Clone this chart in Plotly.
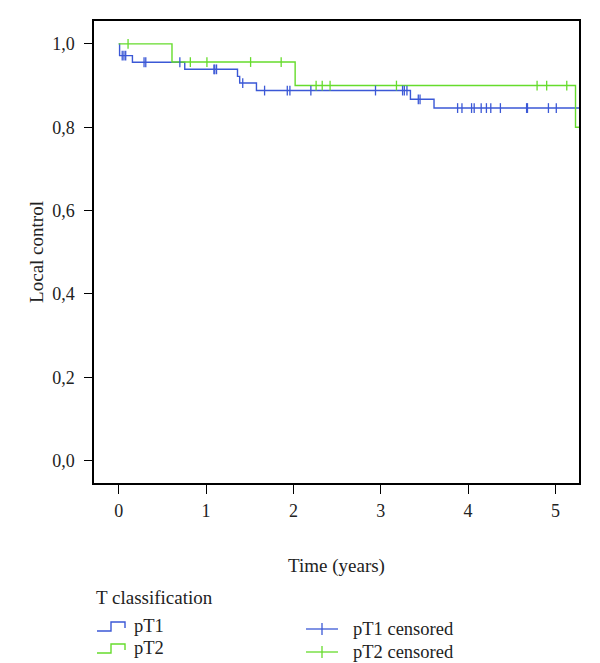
import plotly.graph_objects as go

# ---------------- data ----------------
pT1_time = [0.0, 0.01, 0.157, 0.756, 1.36, 1.385, 1.577, 3.34, 3.61, 5.35]
pT1_surv = [1.0, 0.972, 0.956, 0.939, 0.922, 0.906, 0.888, 0.867, 0.846, 0.846]

pT2_time = [0.0, 0.61, 2.02, 5.23, 5.35]
pT2_surv = [1.0, 0.9565, 0.90, 0.80, 0.80]

pT1_censored = [0.04, 0.06, 0.08, 0.29, 0.31, 0.70, 1.09, 1.10, 1.12, 1.42, 1.67,
                1.93, 1.96, 2.20, 2.94, 3.25, 3.27, 3.30, 3.43, 3.45, 3.88, 3.93,
                4.04, 4.07, 4.15, 4.21, 4.26, 4.37, 4.67, 4.68, 4.92, 5.01]
pT2_censored = [0.107, 0.82, 1.01, 1.51, 1.86, 2.26, 2.33, 2.42, 3.18, 4.79, 4.90, 5.13]

x_ticks = [0, 1, 2, 3, 4, 5]
y_ticks = [0.0, 0.2, 0.4, 0.6, 0.8, 1.0]
y_tick_labels = ["0,0", "0,2", "0,4", "0,6", "0,8", "1,0"]

legend_title = "T classification"
series_names = ["pT1", "pT2"]
censored_names = ["pT1 censored", "pT2 censored"]

BLUE = "#3b58d6"
GREEN = "#66dc2c"
FONT = "Liberation Serif"
TXT = "#222"


def step_value(times, surv, t):
    v = surv[0]
    for ti, si in zip(times, surv):
        if ti <= t:
            v = si
        else:
            break
    return v


fig = go.Figure()
for times, surv, color, name in [(pT1_time, pT1_surv, BLUE, series_names[0]),
                                 (pT2_time, pT2_surv, GREEN, series_names[1])]:
    fig.add_trace(go.Scatter(x=times, y=surv, mode="lines", line_shape="hv",
                             line=dict(color=color, width=1.4), name=name,
                             showlegend=False, hoverinfo="skip"))

for cens, times, surv, color, name in [
        (pT1_censored, pT1_time, pT1_surv, BLUE, censored_names[0]),
        (pT2_censored, pT2_time, pT2_surv, GREEN, censored_names[1])]:
    fig.add_trace(go.Scatter(
        x=cens, y=[step_value(times, surv, t) for t in cens], mode="markers",
        marker=dict(symbol="line-ns", size=7, line=dict(color=color, width=1.3)),
        name=name, showlegend=False, hoverinfo="skip"))

# ---------------- layout ----------------
OFF = 8  # page body margin
W, H = 600 - OFF, 663 - OFF
ML = 94 - OFF
MT = 21 - OFF
MR = W - (579 - OFF)
MB = H - (483 - OFF)
PW, PH = W - ML - MR, H - MT - MB


def px(x):  # page pixel -> paper fraction
    return (x - OFF - ML) / PW


def py(y):
    return (H - MB - (y - OFF)) / PH


shapes = []
annotations = []

# legend: step glyphs
for i, (color, name) in enumerate(zip([BLUE, GREEN], series_names)):
    yc = 626 + 22 * i
    low, high, end = yc + 5, yc - 4, yc + 2
    path = (f"M {px(97)},{py(low)} L {px(111)},{py(low)} L {px(111)},{py(high)} "
            f"L {px(125)},{py(high)} L {px(125)},{py(end)}")
    shapes.append(dict(type="path", xref="paper", yref="paper", path=path,
                       line=dict(color=color, width=1.4)))
    annotations.append(dict(x=px(132), y=py(yc), xref="paper", yref="paper",
                            text=name, showarrow=False, xanchor="left",
                            yanchor="middle", font=dict(family=FONT, size=18.5, color=TXT)))

# legend: censored crosses
for i, (color, name) in enumerate(zip([BLUE, GREEN], censored_names)):
    yc = 629 + 23 * i
    shapes.append(dict(type="line", xref="paper", yref="paper",
                       x0=px(306), x1=px(338), y0=py(yc), y1=py(yc),
                       line=dict(color=color, width=1.3)))
    shapes.append(dict(type="line", xref="paper", yref="paper",
                       x0=px(322), x1=px(322), y0=py(yc - 6), y1=py(yc + 6),
                       line=dict(color=color, width=1.3)))
    annotations.append(dict(x=px(351), y=py(yc), xref="paper", yref="paper",
                            text=name, showarrow=False, xanchor="left",
                            yanchor="middle", font=dict(family=FONT, size=18.5, color=TXT)))

annotations.append(dict(x=px(94), y=py(597), xref="paper", yref="paper",
                        text=legend_title, showarrow=False, xanchor="left",
                        yanchor="middle", font=dict(family=FONT, size=19, color=TXT)))

fig.update_layout(
    width=W, height=H,
    margin=dict(l=ML, r=MR, t=MT, b=MB, pad=0),
    paper_bgcolor="white", plot_bgcolor="white",
    font=dict(family=FONT, size=18, color=TXT),
    shapes=shapes, annotations=annotations,
    showlegend=False,
)
fig.update_xaxes(range=[-0.283, 5.27], tickvals=x_ticks, ticks="outside", ticklen=9,
                 tickwidth=1.3, tickcolor="black", showline=True, linecolor="black",
                 linewidth=1.5, mirror=True, showgrid=False, zeroline=False,
                 ticklabelstandoff=2,
                 title=dict(text="Time (years)", font=dict(family=FONT, size=19), standoff=38),
                 tickfont=dict(family=FONT, size=18), automargin=False)
fig.update_yaxes(range=[-0.054, 1.055], tickvals=y_ticks, ticktext=y_tick_labels,
                 ticks="outside", ticklen=8, tickwidth=1.3, tickcolor="black",
                 showline=True, linecolor="black", linewidth=1.5, mirror=True,
                 showgrid=False, zeroline=False, ticklabelstandoff=6,
                 title=dict(text="Local control", font=dict(family=FONT, size=19), standoff=4),
                 tickfont=dict(family=FONT, size=18), automargin=False)

fig.write_html("out.html")
